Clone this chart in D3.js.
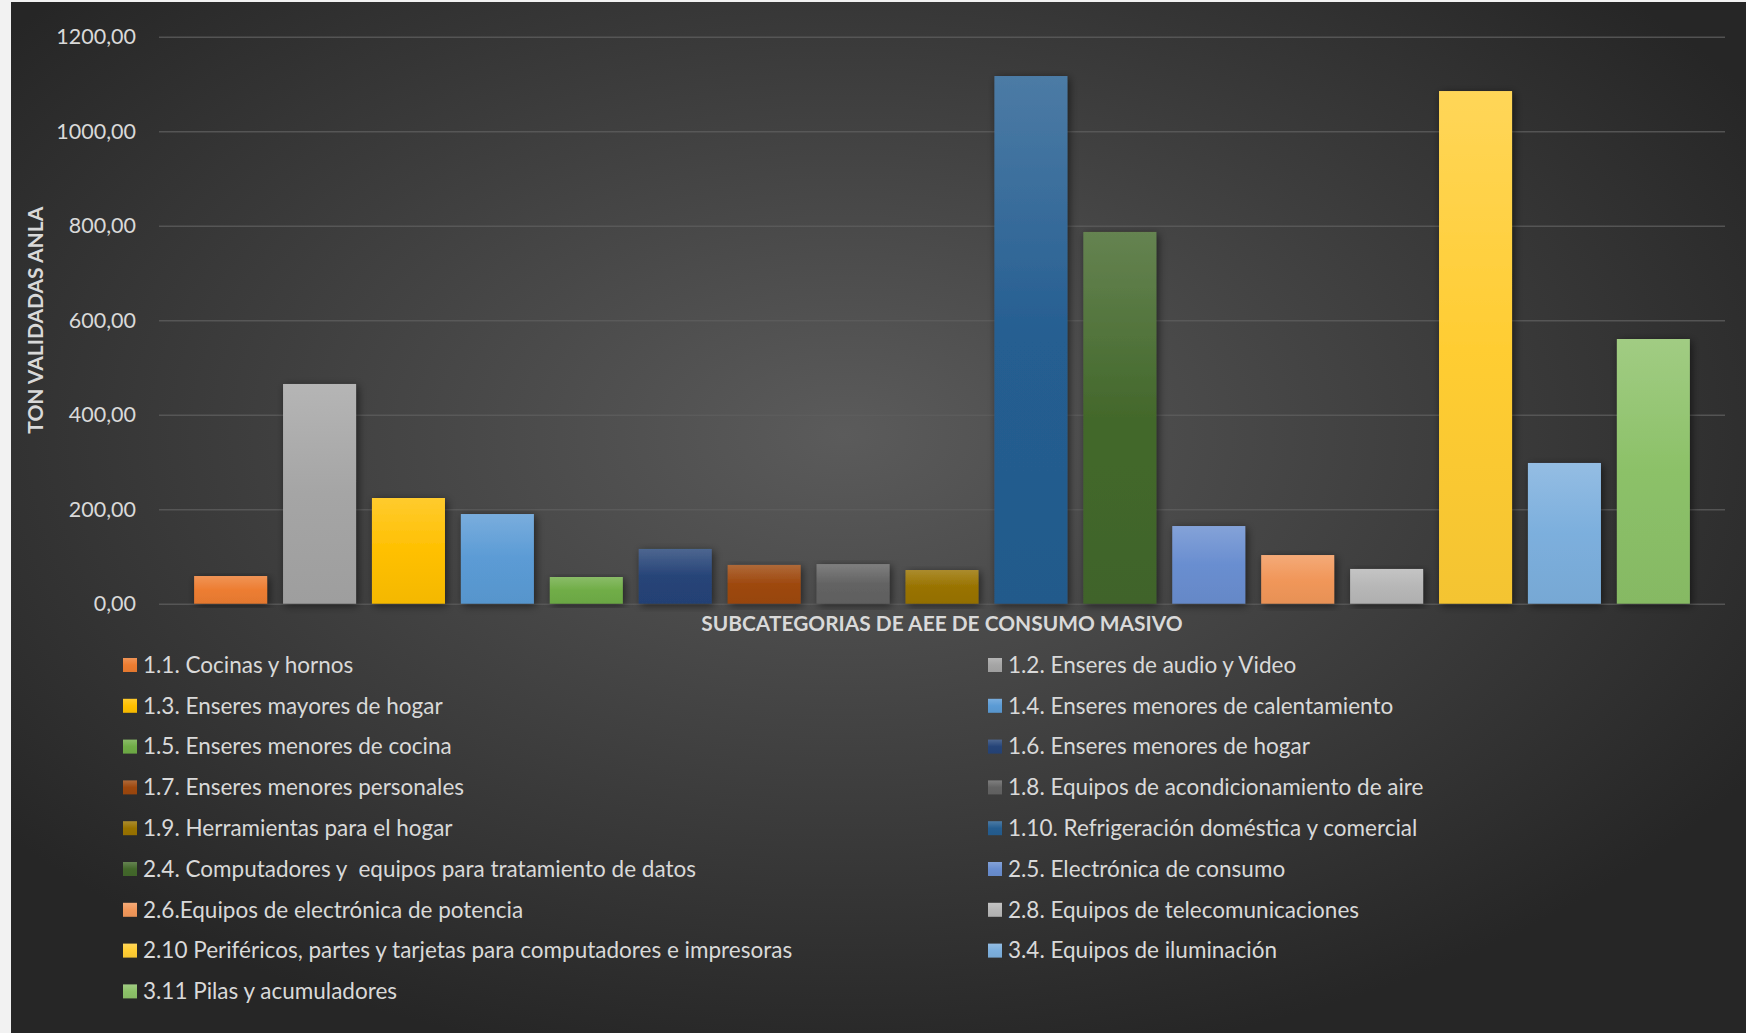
<!DOCTYPE html>
<html>
<head>
<meta charset="utf-8">
<script src="https://cdn.jsdelivr.net/npm/d3@7"></script>
<style>
  body { margin: 0; background: #f2f2f2; }
  svg { display: block; }
  text { font-family: Lato, "Open Sans", sans-serif; }
</style>
</head>
<body>
<svg id="chart" width="1746" height="1033"></svg>
<script>
// Series data
var categories = [
	"1.1. Cocinas y hornos",
	"1.2. Enseres de audio y Video",
	"1.3. Enseres mayores de hogar",
	"1.4. Enseres menores de calentamiento",
	"1.5. Enseres menores de cocina",
	"1.6. Enseres menores de hogar",
	"1.7. Enseres menores personales",
	"1.8. Equipos de acondicionamiento de aire",
	"1.9. Herramientas para el hogar",
	"1.10. Refrigeración doméstica y comercial",
	"2.4. Computadores y  equipos para tratamiento de datos",
	"2.5. Electrónica de consumo",
	"2.6.Equipos de electrónica de potencia",
	"2.8. Equipos de telecomunicaciones",
	"2.10 Periféricos, partes y tarjetas para computadores e impresoras",
	"3.4. Equipos de iluminación",
	"3.11 Pilas y acumuladores"
];
var values = [58.6, 465, 223.7, 189.8, 56.5, 115.8, 82, 83.9, 71.3, 1116.8, 786.7, 164.4, 103, 73.5, 1085, 297.8, 560.2];
var colors = ["#ED7D31", "#A5A5A5", "#FFC000", "#5B9BD5", "#70AD47", "#264478", "#9E480E", "#636363", "#997300",
	"#255E91", "#43682B", "#698ED0", "#F1975A", "#B7B7B7", "#FFCD33", "#7CAFDD", "#8CC168"];
var yTicks = [0, 200, 400, 600, 800, 1000, 1200];
var yTitle = "TON VALIDADAS ANLA";
var xTitle = "SUBCATEGORIAS DE AEE DE CONSUMO MASIVO";

var W = 1746, H = 1033;
var plot = { left: 159, right: 1725, top: 36.7, bottom: 603.7 };

var svg = d3.select("#chart");
var defs = svg.append("defs");

// chart area background
var bg = defs.append("radialGradient").attr("id", "bg")
	.attr("cx", "48%").attr("cy", "42%").attr("r", "62%");
bg.append("stop").attr("offset", "0%").attr("stop-color", "#5b5b5b");
bg.append("stop").attr("offset", "100%").attr("stop-color", "#262626");

var shadow = defs.append("filter").attr("id", "shadow")
	.attr("x", "-30%").attr("y", "-10%").attr("width", "160%").attr("height", "125%");
shadow.append("feDropShadow").attr("dx", 2).attr("dy", 2).attr("stdDeviation", 4)
	.attr("flood-color", "#000").attr("flood-opacity", 0.55);

colors.forEach(function(c, i) {
	var g = defs.append("linearGradient").attr("id", "bar" + i)
		.attr("x1", 0).attr("y1", 0).attr("x2", 0).attr("y2", 1);
	g.append("stop").attr("offset", "0%").attr("stop-color", d3.interpolateRgb(c, "#ffffff")(0.18));
	g.append("stop").attr("offset", "50%").attr("stop-color", c);
	g.append("stop").attr("offset", "100%").attr("stop-color", d3.color(c).darker(0.12));
});

svg.append("rect").attr("x", 11).attr("y", 2).attr("width", W - 11).attr("height", H - 2)
	.attr("fill", "url(#bg)");

var x = d3.scaleBand()
	.domain(d3.range(categories.length))
	.range([plot.left, plot.right])
	.paddingInner(0.179)
	.paddingOuter(0.395);

var y = d3.scaleLinear()
	.domain([0, 1200])
	.range([plot.bottom, plot.top]);

var locale = d3.formatLocale({ decimal: ",", thousands: "", grouping: [3] });
var fmt = locale.format(".2f");

var yAxis = svg.append("g")
	.attr("transform", "translate(" + plot.left + ",0)")
	.call(d3.axisLeft(y).tickValues(yTicks).tickFormat(fmt)
		.tickSize(-(plot.right - plot.left)).tickPadding(23));
yAxis.select(".domain").remove();
yAxis.selectAll(".tick line").attr("stroke", "#5e5e5e").attr("stroke-width", 1.6).attr("stroke-opacity", 0.8);
yAxis.selectAll(".tick text").attr("fill", "#d9d9d9").style("font-size", "21.5px")
	.style("font-family", "Lato, 'Open Sans', sans-serif");

svg.append("g").selectAll("rect")
	.data(values)
	.join("rect")
	.attr("x", function(d, i) { return x(i); })
	.attr("y", function(d) { return y(d); })
	.attr("width", x.bandwidth())
	.attr("height", function(d) { return y(0) - y(d); })
	.attr("fill", function(d, i) { return "url(#bar" + i + ")"; })
	.attr("filter", "url(#shadow)");

// axis titles
svg.append("text")
	.attr("transform", "translate(36," + ((plot.top + plot.bottom) / 2) + ") rotate(-90)")
	.attr("text-anchor", "middle").attr("dy", "0.35em")
	.attr("fill", "#d9d9d9").style("font-size", "21px").style("font-weight", "bold")
	.text(yTitle);

svg.append("text")
	.attr("x", (plot.left + plot.right) / 2).attr("y", 623.5)
	.attr("text-anchor", "middle").attr("dy", "0.35em")
	.attr("fill", "#d9d9d9").style("font-size", "20.9px").style("font-weight", "bold")
	.text(xTitle);

// legend, two columns
var colX = [123, 988];
var rowY0 = 665, rowStep = 40.8;
var legend = svg.append("g").selectAll("g")
	.data(categories)
	.join("g")
	.attr("transform", function(d, i) {
		return "translate(" + colX[i % 2] + "," + (rowY0 + Math.floor(i / 2) * rowStep) + ")";
	});
legend.append("rect")
	.attr("x", 0).attr("y", -7).attr("width", 14).attr("height", 14)
	.attr("fill", function(d, i) { return "url(#bar" + i + ")"; });
legend.append("text")
	.attr("x", 20).attr("dy", "0.35em")
	.attr("fill", "#d9d9d9").style("font-size", "22.5px")
	.style("white-space", "pre")
	.text(function(d) { return d; });
</script>
</body>
</html>
